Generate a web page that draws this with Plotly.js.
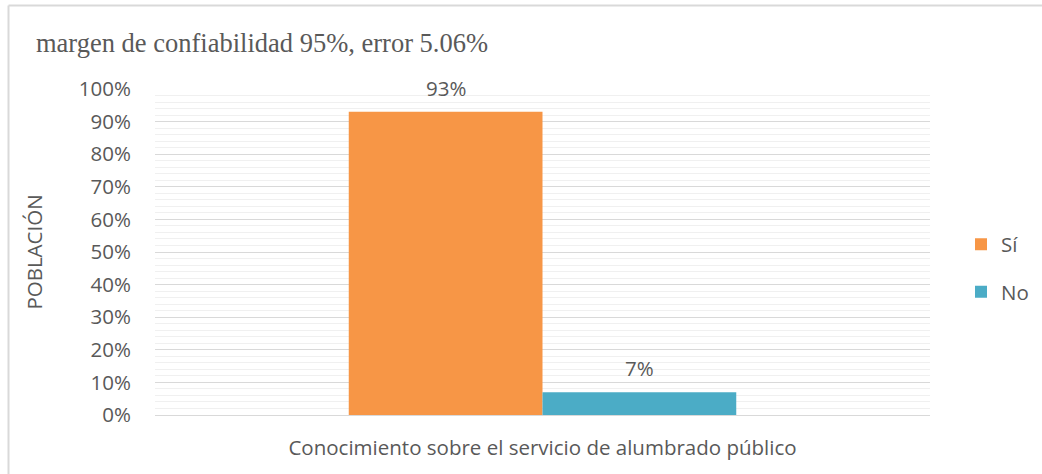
<!DOCTYPE html>
<html>
<head>
<meta charset="utf-8">
<script src="https://cdn.plot.ly/plotly-3.0.1.min.js"></script>
<style>
  html, body { margin: 0; padding: 0; background: #ffffff; }
  #chart { width: 1042px; height: 474px; }
</style>
</head>
<body>
<div id="chart"></div>
<script>
const categories = ["Conocimiento sobre el servicio de alumbrado público"];
const seriesNames = ["Sí", "No"];
const valuesSi = [0.93];
const valuesNo = [0.07];
const seriesColors = ["#F79646", "#4BACC6"];
const chartTitle = "margen de confiabilidad 95%, error 5.06%";
const yTitle = "POBLACIÓN";

const textColor = "#595959";
const tickFont = { family: "Open Sans, sans-serif", size: 20.5, color: textColor };

const seriesValues = [valuesSi, valuesNo];
const traces = seriesValues.map((vals, i) => ({
  type: "bar",
  name: seriesNames[i],
  x: categories,
  y: vals,
  marker: { color: seriesColors[i] },
  legendgroup: "g" + i,
  hoverinfo: "none"
}));

// data labels above each bar (grouped: 2 bars, bargap 0.5 -> each bar 0.25 wide)
const annotations = [];
seriesValues.forEach((vals, i) => {
  vals.forEach((v, j) => {
    annotations.push({
      xref: "x", yref: "y",
      x: j + (i === 0 ? -0.125 : 0.125),
      y: v,
      text: Math.round(v * 100) + "%",
      showarrow: false,
      yanchor: "bottom",
      yshift: 8,
      font: tickFont
    });
  });
});

const layout = {
  width: 1042,
  height: 474,
  paper_bgcolor: "#ffffff",
  plot_bgcolor: "#ffffff",
  margin: { l: 155, r: 112, t: 89, b: 59, autoexpand: false },
  barmode: "group",
  bargap: 0.5,
  bargroupgap: 0,
  title: {
    text: chartTitle,
    font: { family: "Liberation Serif, serif", size: 26.5, color: textColor },
    xref: "container", x: 36 / 1042, xanchor: "left",
    yref: "container", y: 1 - 43 / 474, yanchor: "middle"
  },
  xaxis: {
    type: "category",
    showgrid: false,
    showline: false,
    zeroline: false,
    ticks: "outside",
    ticklen: 14,
    tickcolor: "rgba(0,0,0,0)",
    tickfont: tickFont,
    fixedrange: true
  },
  yaxis: {
    range: [0, 1],
    dtick: 0.1,
    tick0: 0,
    tickformat: ".0%",
    tickfont: tickFont,
    ticks: "outside",
    ticklen: 19,
    tickcolor: "rgba(0,0,0,0)",
    showgrid: true,
    gridcolor: "#d9d9d9",
    gridwidth: 1,
    zeroline: true,
    zerolinecolor: "#d9d9d9",
    zerolinewidth: 1,
    showline: false,
    minor: { dtick: 0.02, showgrid: true, gridcolor: "#f0f0f0", gridwidth: 1 },
    title: { text: yTitle, font: tickFont, standoff: 30 },
    fixedrange: true
  },
  legend: {
    x: (961 - 155) / 775, xanchor: "left",
    y: 0.45, yanchor: "middle",
    font: tickFont,
    traceorder: "grouped",
    tracegroupgap: 18,
    itemwidth: 30
  },
  annotations: annotations,
  shapes: [
    { type: "line", xref: "paper", yref: "paper",
      x0: (8.5 - 155) / 775, x1: (8.5 - 155) / 775,
      y0: (415 - 474) / 326, y1: (415 - 5.5) / 326,
      line: { color: "#d9d9d9", width: 2 } },
    { type: "line", xref: "paper", yref: "paper",
      x0: (8.5 - 155) / 775, x1: (1042 - 155) / 775,
      y0: (415 - 5.5) / 326, y1: (415 - 5.5) / 326,
      line: { color: "#d9d9d9", width: 2 } }
  ]
};

Plotly.newPlot("chart", traces, layout, { displayModeBar: false, staticPlot: true });
</script>
</body>
</html>
